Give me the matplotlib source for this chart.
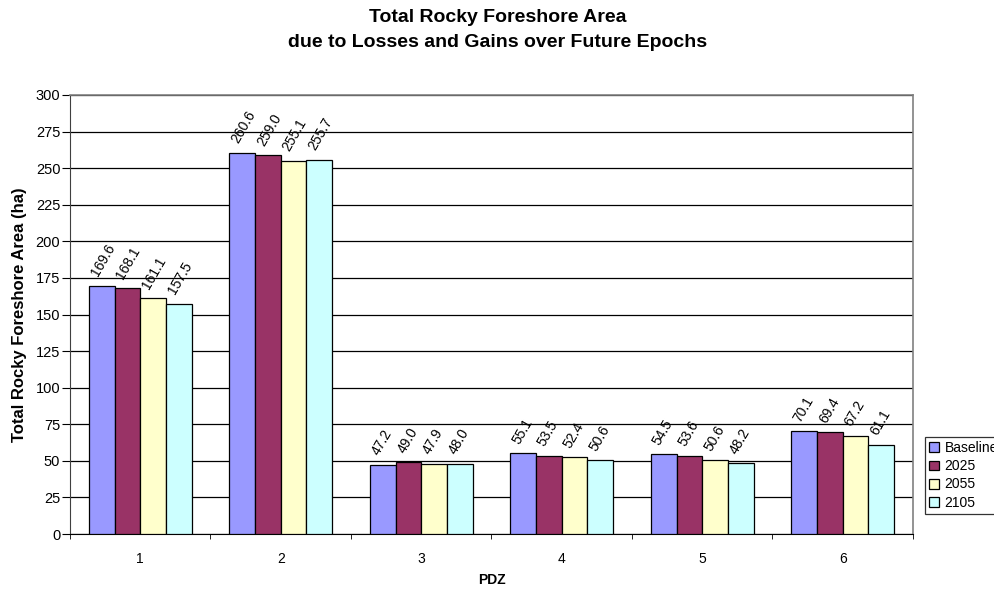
import matplotlib
matplotlib.use("Agg")
import matplotlib.pyplot as plt
import numpy as np

plt.rcParams['font.family'] = ['Liberation Sans', 'DejaVu Sans']

pdz = ["1", "2", "3", "4", "5", "6"]
series_names = ["Baseline", "2025", "2055", "2105"]
baseline = [169.6, 260.6, 47.2, 55.1, 54.5, 70.1]
y2025 = [168.1, 259.0, 49.0, 53.5, 53.6, 69.4]
y2055 = [161.1, 255.1, 47.9, 52.4, 50.6, 67.2]
y2105 = [157.5, 255.7, 48.0, 50.6, 48.2, 61.1]
colors = ["#9999FF", "#993366", "#FFFFCC", "#CCFFFF"]

fig = plt.figure(figsize=(9.95, 5.9), dpi=100)
ax = fig.add_axes([70/995, 1 - 534/590, (913 - 70)/995, (534 - 95)/590])

x = np.arange(len(pdz))
w = 0.183
all_series = [baseline, y2025, y2055, y2105]
for i, (vals, name, c) in enumerate(zip(all_series, series_names, colors)):
    pos = x + (i - 1.5) * w
    ax.bar(pos, vals, width=w, color=c, edgecolor="black", linewidth=0.9,
           label=name, zorder=3)
    for px, v in zip(pos, vals):
        ax.annotate(f"{v:.1f}", (px, v), xytext=(-1, 5), textcoords="offset points",
                    rotation=60, rotation_mode="anchor", ha="left", va="bottom",
                    fontsize=10)

ax.set_xlim(-0.5, len(pdz) - 0.5)
ax.set_ylim(0, 300)
ax.set_yticks(np.arange(0, 301, 25))
ax.yaxis.grid(True, color="black", linewidth=0.9, zorder=0)
ax.set_xticks(x)
ax.set_xticklabels(pdz, fontsize=10)
ax.set_xticks(np.arange(-0.5, len(pdz), 1), minor=True)
ax.tick_params(axis="x", which="major", length=0, pad=13)
ax.tick_params(axis="x", which="minor", length=3.5, direction="out")
ax.tick_params(axis="y", length=5.5, pad=1.5, direction="out", labelsize=10.5)

for side in ["top", "right"]:
    ax.spines[side].set_color("#808080")
    ax.spines[side].set_linewidth(1.2)
ax.spines["left"].set_color("#404040")
ax.spines["bottom"].set_color("black")

ax.set_xlabel("PDZ", fontsize=10, fontweight="bold", labelpad=5)
ax.set_ylabel("Total Rocky Foreshore Area (ha)", fontsize=12, fontweight="bold", labelpad=6)

fig.text(0.5, 1 - 30/590, "Total Rocky Foreshore Area\ndue to Losses and Gains over Future Epochs",
         ha="center", va="center", fontsize=14, fontweight="bold", linespacing=1.55)

leg = fig.legend(loc="upper left", bbox_to_anchor=(925/995, 1 - 437/590),
                 fontsize=10, frameon=True, fancybox=False, edgecolor="black",
                 handlelength=0.7, handleheight=0.7, handletextpad=0.4,
                 borderpad=0.3, labelspacing=0.3, borderaxespad=0)
leg.get_frame().set_linewidth(0.9)

fig.savefig("out.png", dpi=100)
